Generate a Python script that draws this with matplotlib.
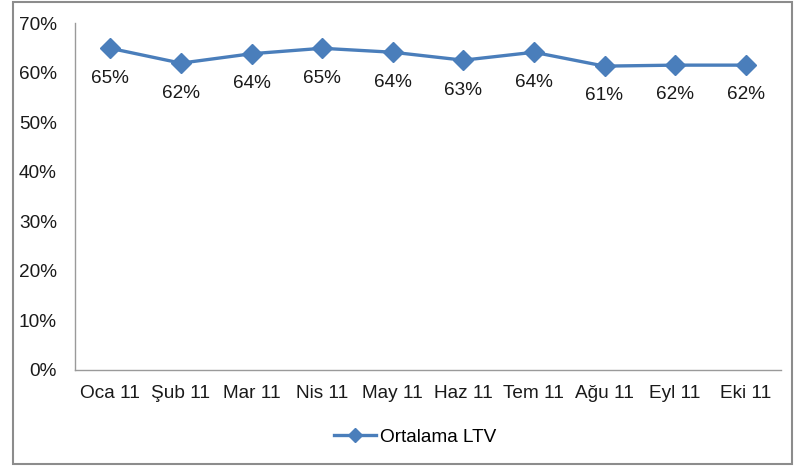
import matplotlib
matplotlib.use("Agg")
import matplotlib.pyplot as plt
from matplotlib.patches import Rectangle
from matplotlib.ticker import FuncFormatter

plt.rcParams['font.family'] = ['Liberation Sans', 'DejaVu Sans']

months = ["Oca 11", "Şub 11", "Mar 11", "Nis 11", "May 11", "Haz 11",
          "Tem 11", "Ağu 11", "Eyl 11", "Eki 11"]
ltv = [64.9, 61.9, 63.8, 64.9, 64.1, 62.5, 64.1, 61.3, 61.5, 61.5]
labels = ["65%", "62%", "64%", "65%", "64%", "63%", "64%", "61%", "62%", "62%"]
series_name = "Ortalama LTV"

W, H = 795, 466
FS = 13.7
fig = plt.figure(figsize=(W / 100, H / 100), dpi=100)
fig.patches.append(Rectangle((13 / W, 2 / H), (792 - 13) / W, (464 - 2) / H,
                             transform=fig.transFigure, fill=False,
                             edgecolor="#8c8c8c", linewidth=1.5))

ax = fig.add_axes([75 / W, (H - 370) / H, (781 - 75) / W, (370 - 23) / H])
color = "#4a7ebb"
x = list(range(len(months)))
ax.plot(x, ltv, color=color, linewidth=2.4, marker="D", markersize=10,
        label=series_name)
for xi, v, lab in zip(x, ltv, labels):
    ax.annotate(lab, (xi, v), xytext=(0, -21.5), textcoords="offset points",
                ha="center", va="center", fontsize=FS, color="#1a1a1a")

ax.set_xlim(-0.5, len(months) - 0.5)
ax.set_ylim(0, 70)
ax.set_yticks(range(0, 71, 10))
ax.yaxis.set_major_formatter(FuncFormatter(lambda v, p: f"{int(v)}%"))
ax.set_xticks(x)
ax.set_xticklabels(months)
ax.tick_params(axis="both", length=0, labelsize=FS, colors="#1a1a1a")
ax.tick_params(axis="y", pad=13)
ax.tick_params(axis="x", pad=11)
for s in ["top", "right"]:
    ax.spines[s].set_visible(False)
for s in ["left", "bottom"]:
    ax.spines[s].set_color("#9a9a9a")
    ax.spines[s].set_linewidth(1.0)

leg = fig.legend(loc="center", bbox_to_anchor=(415 / W, (H - 437) / H),
                 frameon=False, fontsize=FS, handlelength=2.2,
                 handletextpad=0.2, markerscale=0.75)

fig.savefig("out.png", dpi=100)
